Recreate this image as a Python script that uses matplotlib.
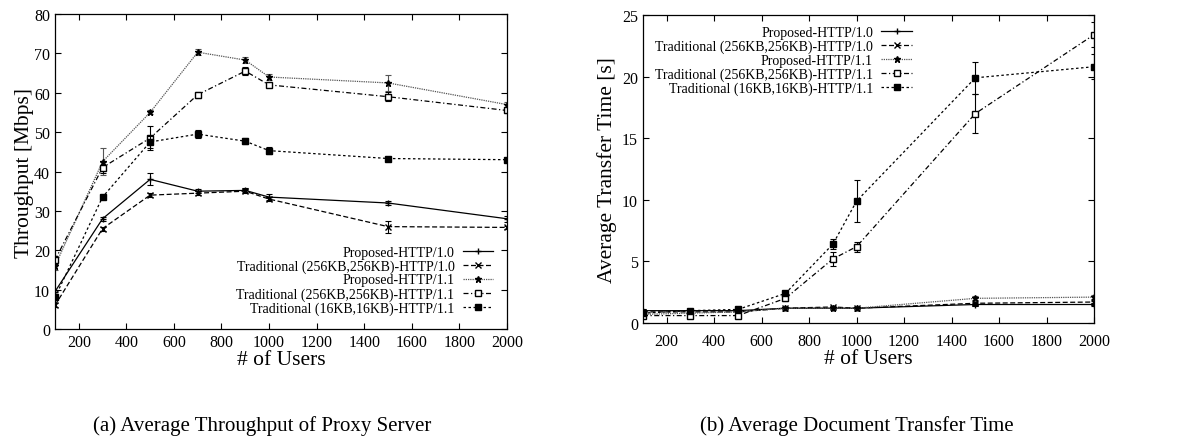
import numpy as np
import matplotlib.pyplot as plt

plt.rcParams['font.family'] = ['Liberation Serif', 'DejaVu Serif']
plt.rcParams['mathtext.fontset'] = 'stix'

# number of users
users = [100, 300, 500, 700, 900, 1000, 1500, 2000]

labels = [
    "Proposed-HTTP/1.0",
    "Traditional (256KB,256KB)-HTTP/1.0",
    "Proposed-HTTP/1.1",
    "Traditional (256KB,256KB)-HTTP/1.1",
    "Traditional (16KB,16KB)-HTTP/1.1",
]

# (a) throughput [Mbps]
thr_prop10 = [9.5, 28.0, 38.0, 35.0, 35.2, 33.5, 32.0, 28.0]
thr_trad256_10 = [6.0, 25.5, 34.0, 34.5, 35.0, 33.0, 26.0, 25.8]
thr_prop11 = [16.0, 42.5, 55.0, 70.3, 68.3, 64.0, 62.5, 57.0]
thr_trad256_11 = [17.5, 41.0, 48.5, 59.5, 65.5, 62.0, 59.0, 55.5]
thr_trad16_11 = [8.0, 33.5, 47.5, 49.5, 47.7, 45.3, 43.3, 43.0]

thr_err_prop10 = [0.5, 0.5, 1.5, 0.5, 0.5, 0.8, 0.4, 0.8]
thr_err_trad256_10 = [0.5, 0.5, 0.5, 0.5, 0.5, 0.5, 1.5, 0.4]
thr_err_prop11 = [1.0, 3.5, 0.5, 0.7, 0.8, 0.8, 2.0, 0.6]
thr_err_trad256_11 = [1.0, 1.5, 3.0, 0.8, 1.0, 0.6, 1.2, 0.6]
thr_err_trad16_11 = [0.6, 0.5, 1.5, 1.0, 0.8, 0.8, 0.4, 0.4]

# (b) average transfer time [s]
tt_prop10 = [1.0, 1.0, 1.0, 1.2, 1.2, 1.2, 1.5, 1.5]
tt_trad256_10 = [0.9, 0.9, 0.9, 1.2, 1.3, 1.2, 1.6, 1.7]
tt_prop11 = [0.7, 0.8, 0.9, 1.2, 1.2, 1.2, 2.0, 2.1]
tt_trad256_11 = [0.6, 0.6, 0.6, 2.0, 5.2, 6.2, 17.0, 23.4]
tt_trad16_11 = [0.8, 1.0, 1.1, 2.4, 6.4, 9.9, 19.9, 20.8]

tt_err_prop10 = [0.1, 0.1, 0.1, 0.1, 0.1, 0.1, 0.1, 0.1]
tt_err_trad256_10 = [0.1, 0.1, 0.1, 0.1, 0.1, 0.1, 0.1, 0.1]
tt_err_prop11 = [0.1, 0.1, 0.1, 0.1, 0.1, 0.1, 0.2, 0.2]
tt_err_trad256_11 = [0.1, 0.1, 0.1, 0.2, 0.6, 0.4, 1.6, 1.0]
tt_err_trad16_11 = [0.1, 0.1, 0.1, 0.1, 0.4, 1.7, 1.3, 1.0]

styles = [
    dict(color='black', linestyle='-', marker='+', markersize=5, mfc='black'),
    dict(color='black', linestyle=(0, (4, 2)), marker='x', markersize=4, mfc='black'),
    dict(color='#555555', linestyle=(0, (1, 0.8)), marker='*', markersize=5, mfc='black', mec='black'),
    dict(color='black', linestyle=(0, (4, 2, 1, 2)), marker='s', markersize=4.5, mfc='white'),
    dict(color='black', linestyle=(0, (2, 2)), marker='s', markersize=4.5, mfc='black'),
]


def draw(ax, series, errors, xpad):
    for y, e, st, lab in zip(series, errors, styles, labels):
        ax.errorbar(users, y, yerr=e, fmt='none', ecolor=st['color'],
                    elinewidth=0.8, capsize=2, capthick=0.8)
        ax.plot(users, y, linewidth=0.9, label=lab, **st)
    ax.tick_params(direction='in', top=True, right=True, length=4, labelsize=11.5)
    ax.tick_params(axis='x', pad=xpad)
    ax.set_xlim(100, 2000)
    ax.set_xticks(range(200, 2001, 200))
    ax.set_xlabel("# of Users", fontsize=15.5, labelpad=0)
    for s in ax.spines.values():
        s.set_linewidth(0.9)


def right_legend(ax, loc, anchor):
    leg = ax.legend(loc=loc, bbox_to_anchor=anchor, markerfirst=False, frameon=False,
                    fontsize=10, handlelength=2.2, handletextpad=0.6,
                    labelspacing=0.05, borderpad=0, borderaxespad=0)
    for vp in leg._legend_box.get_children()[1].get_children():
        vp.align = 'right'
    return leg


fig = plt.figure(figsize=(11.77, 4.39), dpi=100)

ax1 = fig.add_axes([0.0467, 0.2483, 0.384, 0.7175])
draw(ax1, [thr_prop10, thr_trad256_10, thr_prop11, thr_trad256_11, thr_trad16_11],
     [thr_err_prop10, thr_err_trad256_10, thr_err_prop11, thr_err_trad256_11, thr_err_trad16_11], 3.5)
ax1.set_ylim(0, 80)
ax1.set_yticks(range(0, 81, 10))
ax1.set_ylabel("Throughput [Mbps]", fontsize=15.5, labelpad=0)
right_legend(ax1, 'lower right', (0.97, 0.045))

ax2 = fig.add_axes([0.5463, 0.262, 0.3832, 0.7016])
draw(ax2, [tt_prop10, tt_trad256_10, tt_prop11, tt_trad256_11, tt_trad16_11],
     [tt_err_prop10, tt_err_trad256_10, tt_err_prop11, tt_err_trad256_11, tt_err_trad16_11], 7)
ax2.set_ylim(0, 25)
ax2.set_yticks(range(0, 26, 5))
ax2.set_ylabel("Average Transfer Time [s]", fontsize=15.5, labelpad=4)
right_legend(ax2, 'upper right', (0.596, 0.965))

fig.text(0.223, 0.018, "(a) Average Throughput of Proxy Server", ha='center', fontsize=15)
fig.text(0.728, 0.018, "(b) Average Document Transfer Time", ha='center', fontsize=15)

fig.savefig('out.png', dpi=100)
